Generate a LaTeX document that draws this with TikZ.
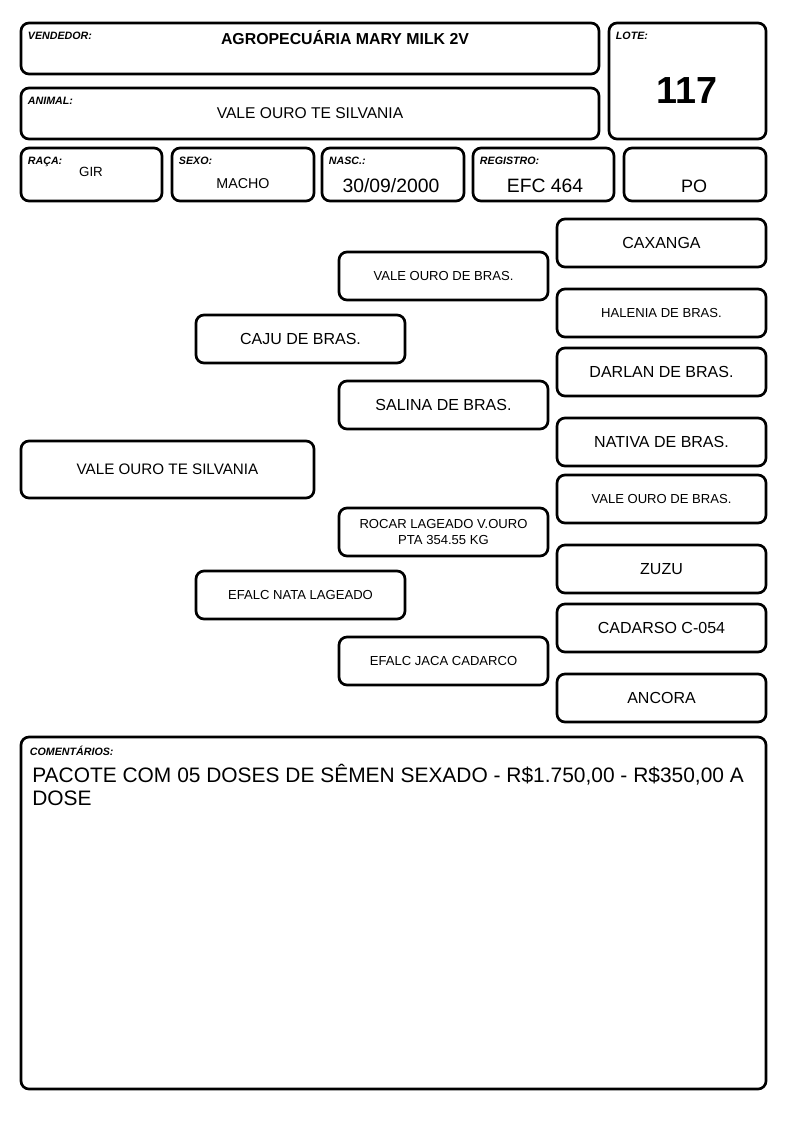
\documentclass[tikz,border=0pt]{standalone}
\usepackage{fontspec}
\setmainfont{Liberation Sans}
\usetikzlibrary{positioning}

\begin{document}
\begin{tikzpicture}[
    x=0.75pt, y=-0.75pt,
    box/.style   ={rectangle,draw,line width=2pt, rounded corners=6pt, inner sep=0pt, align=center},
    field/.style ={box, minimum height=39.75pt},
    ped/.style   ={box, minimum width=156.75pt, minimum height=36pt},
    tag/.style   ={font=\bfseries\itshape\fontsize{8}{9}\selectfont, anchor=north west, inner sep=0pt},
    val/.style   ={inner sep=0pt, align=center},
    big/.style   ={font=\fontsize{12}{14}\selectfont},
    small/.style ={font=\fontsize{9.8}{12}\selectfont},
    ]
    \useasboundingbox (0,0) rectangle (794,1123);

    % --- Header ---
    \node[box, minimum width=433.5pt, minimum height=38.25pt] (vendedor) at (310,48.5) {};
    \node[tag] at ([xshift=6pt,yshift=-7.5pt]vendedor.north west) {VENDEDOR:};
    \node[val, font=\bfseries\fontsize{11.9}{14}\selectfont] (vend_val) at (345,38) {AGROPECUÁRIA MARY MILK 2V};

    \node[box, minimum width=433.5pt, minimum height=38.25pt] (animal) at (310,113.5) {};
    \node[tag] at ([xshift=6pt,yshift=-7.5pt]animal.north west) {ANIMAL:};
    \node[val, font=\fontsize{11.7}{14}\selectfont] (animal_val) at (310,113) {VALE OURO TE SILVANIA};

    \node[box, minimum width=117.75pt, minimum height=87pt] (lote) at (687.5,81) {};
    \node[tag] at ([xshift=6pt,yshift=-7.5pt]lote.north west) {LOTE:};
    \node[val, font=\bfseries\fontsize{28.3}{32}\selectfont] (lote_val) at (687,91) {117};

    % --- Second row ---
    \node[field, minimum width=105.75pt] (raca) at (91.5,174.5) {};
    \node[tag] at ([xshift=6pt,yshift=-7.5pt]raca.north west) {RAÇA:};
    \node[val, font=\fontsize{10}{12}\selectfont] (raca_val) at (91,172) {GIR};

    \node[field, minimum width=106.5pt] (sexo) at (243,174.5) {};
    \node[tag] at ([xshift=6pt,yshift=-7.5pt]sexo.north west) {SEXO:};
    \node[val, font=\fontsize{10.7}{12}\selectfont] (sexo_val) at (243,184) {MACHO};

    \node[field, minimum width=106.5pt] (nasc) at (393,174.5) {};
    \node[tag] at ([xshift=6pt,yshift=-7.5pt]nasc.north west) {NASC.:};
    \node[val, font=\fontsize{14.5}{16}\selectfont] (nasc_val) at (391,186) {30/09/2000};

    \node[field, minimum width=105.75pt] (registro) at (543.5,174.5) {};
    \node[tag] at ([xshift=6pt,yshift=-7.5pt]registro.north west) {REGISTRO:};
    \node[val, font=\fontsize{14.5}{16}\selectfont] (reg_val) at (545,186) {EFC 464};

    \node[field, minimum width=106.5pt] (po) at (695,174.5) {};
    \node[val, font=\fontsize{13.5}{16}\selectfont] (po_val) at (694,186) {PO};

    % --- Pedigree ---
    \node[box, font=\fontsize{11.4}{14}\selectfont, minimum width=219.75pt, minimum height=42.75pt] (animal_p) at (167.5,469.5) {VALE OURO TE SILVANIA};

    \node[ped, big]   (pai) at (300.5,339) {CAJU DE BRAS.};
    \node[ped, small] (mae) at (300.5,595) {EFALC NATA LAGEADO};

    \node[ped, small] (pai_pai) at (443.5,276) {VALE OURO DE BRAS.};
    \node[ped, big]   (pai_mae) at (443.5,405) {SALINA DE BRAS.};
    \node[ped, small] (mae_pai) at (443.5,532) {ROCAR LAGEADO V.OURO\\PTA 354.55 KG};
    \node[ped, small] (mae_mae) at (443.5,661) {EFALC JACA CADARCO};

    \node[ped, big]   (ppp) at (661.5,243) {CAXANGA};
    \node[ped, small] (ppm) at (661.5,313) {HALENIA DE BRAS.};
    \node[ped, big]   (pmp) at (661.5,372) {DARLAN DE BRAS.};
    \node[ped, big]   (pmm) at (661.5,442) {NATIVA DE BRAS.};
    \node[ped, small] (mpp) at (661.5,499) {VALE OURO DE BRAS.};
    \node[ped, big]   (mpm) at (661.5,569) {ZUZU};
    \node[ped, big]   (mmp) at (661.5,628) {CADARSO C-054};
    \node[ped, big]   (mmm) at (661.5,698) {ANCORA};

    % --- Comments ---
    \node[box, minimum width=558.75pt, minimum height=264pt] (coment) at (393.5,913) {};
    \node[tag] at ([xshift=7.5pt,yshift=-7.5pt]coment.north west) {COMENTÁRIOS:};
    \node[val, anchor=north west, align=left, font=\fontsize{15.7}{17.25}\selectfont] (coment_val) at (32,764)
        {PACOTE COM 05 DOSES DE SÊMEN SEXADO - R\$1.750,00 - R\$350,00 A\\DOSE};

\end{tikzpicture}
\end{document}
